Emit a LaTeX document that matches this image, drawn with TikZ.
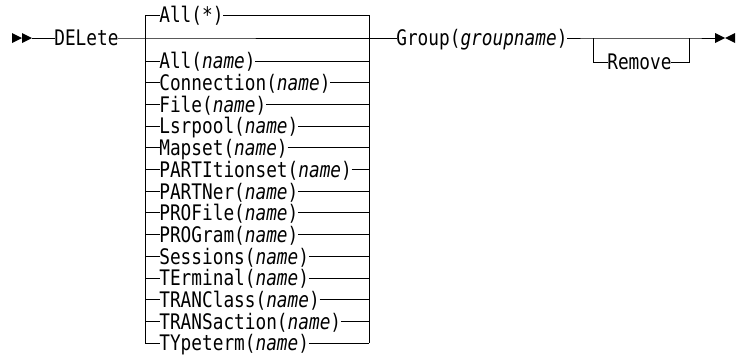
\documentclass[tikz,border=0pt]{standalone}
\usepackage{fontspec}
\setmonofont{DejaVu Sans Mono}[FakeStretch=0.83]
\begin{document}
\begin{tikzpicture}[x=1pt,y=-1pt,line width=0.9pt,
  txt/.style={font=\ttfamily\fontsize{21.4}{24}\selectfont,inner xsep=-0.6pt,inner ysep=0pt,
    text height=15.6pt,text depth=0pt,anchor=west},
  tip/.style={fill=black,draw=none}]
\useasboundingbox (0,0) rectangle (736,356);
% start arrows
\fill[tip] (12,33) -- (22,38) -- (12,43) -- cycle;
\fill[tip] (22,33) -- (32,38) -- (22,43) -- cycle;
\coordinate (start) at (32,38);
\node[txt] (del) at (54.5,38) {DELete};
\coordinate (Lm) at (145,38);
\coordinate (Rm) at (369,38);
\coordinate (Lt) at (145,15);
\coordinate (Rt) at (369,15);
\coordinate (Lb) at (145,343);
\coordinate (Rb) at (369,343);
\draw (start) -- (del.west);
\draw (del.east) -- (Lm) -- (Rm);
% top branch
\node[txt] (b0) at (159.5,15) {All(*)};
\draw (Lb) -- (Lt) -- (b0.west);
\draw (b0.east) -- (Rt) -- (Rb);
% other branches
\foreach \t [count=\i from 0] in {All,Connection,File,Lsrpool,Mapset,PARTItionset,PARTNer,PROFile,PROGram,Sessions,TErminal,TRANClass,TRANSaction,TYpeterm}{
  \pgfmathsetmacro{\yy}{61+\i*21.7}
  \coordinate (l\i) at (145,\yy);
  \coordinate (r\i) at (369,\yy);
  \node[txt] (n\i) at (159.5,\yy) {\t(\textit{name})};
  \draw (l\i) -- (n\i.west);
  \draw (n\i.east) -- (r\i);
}
% group
\node[txt] (grp) at (396.5,38) {Group(\textit{groupname})};
\draw (Rm) -- (grp.west);
\coordinate (ra) at (593,38);
\coordinate (rz) at (689,38);
\coordinate (end) at (715,38);
\draw (grp.east) -- (ra) -- (rz) -- (end);
\node[txt] (rem) at (607.5,62) {Remove};
\draw (ra) |- (rem.west);
\draw (rem.east) -| (rz);
% end arrows
\fill[tip] (715,33) -- (725,38) -- (715,43) -- cycle;
\fill[tip] (735,33) -- (725,38) -- (735,43) -- cycle;
\end{tikzpicture}
\end{document}
